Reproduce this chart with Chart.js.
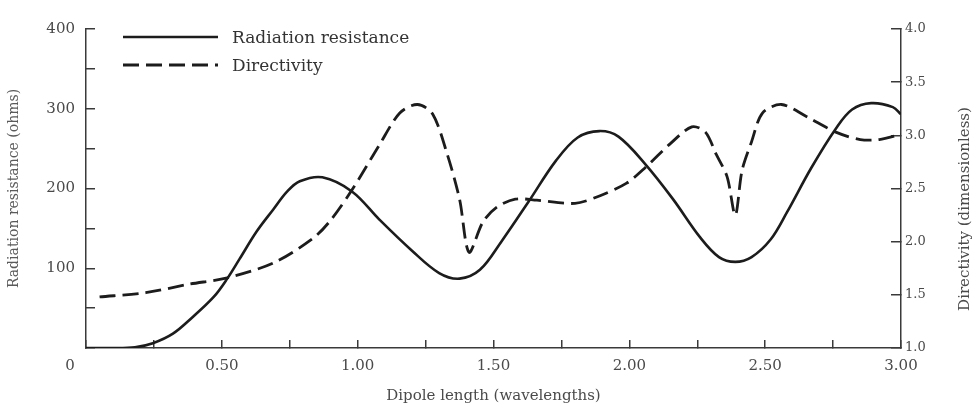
<!DOCTYPE html>
<html>
<head>
<meta charset="utf-8">
<script src="https://cdn.jsdelivr.net/npm/chart.js@4.4.1/dist/chart.umd.min.js"></script>
<style>
  html, body { margin: 0; background: #fff; }
  #wrap { position: relative; width: 980px; height: 409px; }
  #legend { position: absolute; left: 123px; top: 23px; margin: 0; padding: 0; list-style: none;
            font-family: 'DejaVu Serif', serif; font-size: 17px; color: #333; }
  .legend-item { display: flex; align-items: center; height: 28px; }
  .legend-item svg { margin-right: 14px; }
</style>
</head>
<body>
<div id="wrap">
  <canvas id="dipoleCanvas" width="980" height="409"></canvas>
  <ul id="legend"></ul>
</div>
<script>
// ── Data ──────────────────────────────────────────────────────────────────────
const resLen  = [0, 0.10, 0.18, 0.246, 0.32, 0.39, 0.47, 0.52, 0.566, 0.628, 0.69, 0.74, 0.787, 0.87, 0.98, 1.08, 1.20, 1.30, 1.375, 1.45, 1.53, 1.63, 1.73, 1.81, 1.89, 1.96, 2.06, 2.16, 2.26, 2.33, 2.39, 2.45, 2.52, 2.58, 2.67, 2.76, 2.82, 2.89, 2.97, 3.00];
const resOhms = [0, 0, 1, 6, 18, 38, 64, 87, 112, 146, 174, 196, 209, 214, 196, 161, 122, 94, 87, 98, 134, 184, 235, 264, 272, 265, 230, 187, 139, 114, 108, 114, 136, 170, 226, 275, 299, 307, 302, 293];

const dirLen  = [0.05, 0.22, 0.38, 0.52, 0.69, 0.835, 0.90, 0.98, 1.08, 1.155, 1.22, 1.276, 1.33, 1.375, 1.41, 1.46, 1.51, 1.58, 1.66, 1.80, 1.89, 1.99, 2.06, 2.15, 2.23, 2.28, 2.32, 2.36, 2.39, 2.415, 2.45, 2.49, 2.56, 2.65, 2.76, 2.85, 2.92, 3.00];
const dirVal  = [1.48, 1.52, 1.60, 1.66, 1.80, 2.03, 2.20, 2.49, 2.91, 3.21, 3.29, 3.20, 2.82, 2.40, 1.90, 2.18, 2.32, 2.40, 2.39, 2.36, 2.43, 2.55, 2.70, 2.92, 3.08, 3.03, 2.82, 2.61, 2.25, 2.67, 2.94, 3.21, 3.29, 3.18, 3.03, 2.96, 2.96, 3.01];

const xTickLabels   = ['0', '0.50', '1.00', '1.50', '2.00', '2.50', '3.00'];
const resTickLabels = ['100', '200', '300', '400'];
const dirTickLabels = ['1.0', '1.5', '2.0', '2.5', '3.0', '3.5', '4.0'];

// ── Look ──────────────────────────────────────────────────────────────────────
const FONT = "'DejaVu Serif', serif";
const INK  = '#1c1c1c';
const AXIS = '#3a3a3a';
const TXT  = '#4a4a4a';
const DASH = [16, 7];

// origin "0" sits left of the corner; right title reads bottom-to-top
const axisExtras = {
  id: 'axisExtras',
  afterDraw(chart) {
    const { ctx, chartArea } = chart;
    ctx.save();
    ctx.fillStyle = TXT;
    ctx.textAlign = 'center';
    ctx.textBaseline = 'middle';
    ctx.font = `15px ${FONT}`;
    ctx.fillText(xTickLabels[0], chartArea.left - 16, chartArea.bottom + 18);

    ctx.font = `15px ${FONT}`;
    ctx.translate(965, 209);
    ctx.rotate(-Math.PI / 2);
    ctx.fillText('Directivity (dimensionless)', 0, 0);
    ctx.restore();
  }
};

const tickFont = (size) => ({ family: FONT, size });

const chart = new Chart(document.getElementById('dipoleCanvas').getContext('2d'), {
  type: 'line',
  data: {
    datasets: [
      {
        label: 'Radiation resistance',
        data: resLen.map((x, i) => ({ x, y: resOhms[i] })),
        yAxisID: 'yRes',
        borderColor: INK, borderWidth: 2.6,
        pointRadius: 0, tension: 0.35,
      },
      {
        label: 'Directivity',
        data: dirLen.map((x, i) => ({ x, y: dirVal[i] })),
        yAxisID: 'yDir',
        borderColor: INK, borderWidth: 2.8, borderDash: DASH,
        pointRadius: 0, tension: 0.3,
      },
    ]
  },
  options: {
    responsive: false,
    animation: false,
    layout: { padding: { top: 16, left: 0, right: 0, bottom: 0 } },
    plugins: { legend: { display: false }, tooltip: { enabled: false } },
    scales: {
      x: {
        type: 'linear', min: 0, max: 3, position: 'bottom',
        afterFit: s => { s.height = 61; },
        border: { color: AXIS, width: 1.5 },
        grid: { drawOnChartArea: false, tickLength: -8, color: AXIS, lineWidth: 1.5 },
        ticks: {
          stepSize: 0.25, padding: 17, color: TXT, font: tickFont(15), maxRotation: 0, autoSkip: false,
          callback: v => (v > 0 && v % 0.5 === 0) ? xTickLabels[v / 0.5] : '',
        },
        title: {
          display: true, text: 'Dipole length (wavelengths)', color: TXT,
          font: tickFont(15), padding: { top: 0, bottom: 4 },
        },
      },
      yRes: {
        type: 'linear', min: 0, max: 400, position: 'left',
        afterFit: s => { s.width = 86; },
        border: { color: AXIS, width: 1.5 },
        grid: { drawOnChartArea: false, tickLength: -9, color: AXIS, lineWidth: 1.5 },
        ticks: {
          stepSize: 50, padding: 20, color: TXT, font: tickFont(15), autoSkip: false,
          callback: v => (v % 100 === 0 && v > 0) ? resTickLabels[v / 100 - 1] : '',
        },
        title: {
          display: true, text: 'Radiation resistance (ohms)', color: '#5a5a5a',
          font: tickFont(14), padding: { top: 6, bottom: 0 },
        },
      },
      yDir: {
        type: 'linear', min: 1, max: 4, position: 'right',
        afterFit: s => { s.width = 79; },
        border: { color: AXIS, width: 1.5 },
        grid: { drawOnChartArea: false, tickLength: -10, color: AXIS, lineWidth: 1.5 },
        ticks: {
          stepSize: 0.5, padding: 14, color: TXT, font: tickFont(13), autoSkip: false,
          callback: v => dirTickLabels[Math.round((v - 1) / 0.5)],
        },
      },
    }
  },
  plugins: [axisExtras]
});

// ── Legend (inside plot, top-left) ────────────────────────────────────────────
const legEl = document.getElementById('legend');
chart.data.datasets.forEach(ds => {
  const dash = ds.borderDash ? ds.borderDash.join(' ') : 'none';
  const li = document.createElement('li');
  li.className = 'legend-item';
  li.innerHTML = `
    <svg width="95" height="6"><line x1="0" y1="3" x2="95" y2="3" stroke="${ds.borderColor}"
      stroke-width="${ds.borderWidth}" stroke-dasharray="${dash}"/></svg>
    <span class="legend-label">${ds.label}</span>
  `;
  legEl.appendChild(li);
});
</script>
</body>
</html>
